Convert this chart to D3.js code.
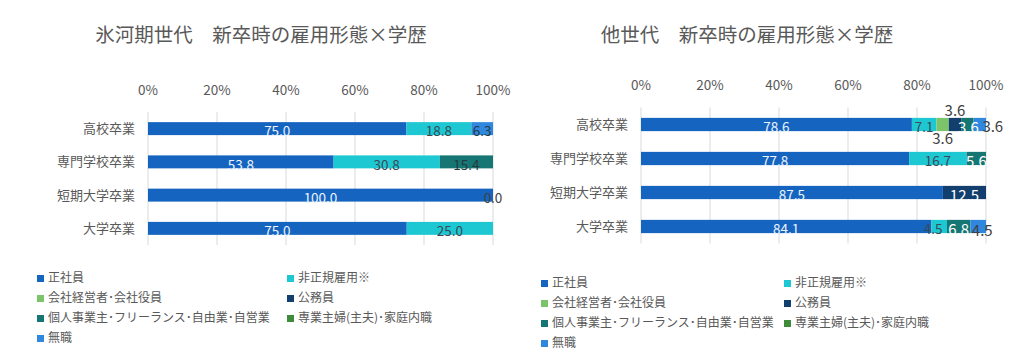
<!DOCTYPE html>
<html>
<head>
<meta charset="utf-8">
<script src="https://cdn.jsdelivr.net/npm/d3@7"></script>
<style>
  body { margin: 0; background: #fff; }
  svg text { font-family: "Noto Sans CJK JP", "Noto Sans", sans-serif; }
</style>
</head>
<body>
<div id="chart"></div>
<script>
const SERIES = [
  "正社員",
  "非正規雇用※",
  "会社経営者･会社役員",
  "公務員",
  "個人事業主･フリーランス･自由業･自営業",
  "専業主婦(主夫)･家庭内職",
  "無職",
];
const COLORS = ["#1565c0", "#1ec8d2", "#7cc46a", "#123f6e", "#157673", "#3f8b3a", "#2f88de"];
const CATEGORIES = ["高校卒業", "専門学校卒業", "短期大学卒業", "大学卒業"];
const TICKS = [0, 0.2, 0.4, 0.6, 0.8, 1];

// rows = categories, columns = series (null = no segment)
const HYOGA_VALUES = [
  [75.0, 18.8, null, null, null, null, 6.3],
  [53.8, 30.8, null, null, 15.4, null, null],
  [100.0, null, null, null, null, null, 0.0],
  [75.0, 25.0, null, null, null, null, null],
];
const OTHER_VALUES = [
  [78.6, 7.1, 3.6, 3.6, 3.6, null, 3.6],
  [77.8, 16.7, null, null, 5.6, null, null],
  [87.5, null, null, 12.5, null, null, null],
  [84.1, 4.5, null, null, 6.8, null, 4.5],
];

const W = 1012, H = 351;
const svg = d3.select("#chart").append("svg").attr("width", W).attr("height", H);

function drawChart(cfg) {
  const g = svg.append("g");

  g.append("text")
    .attr("x", cfg.titleX).attr("y", 35).attr("dy", "0.35em")
    .attr("text-anchor", "middle").attr("fill", "#595959").attr("font-size", "19.5px")
    .text(cfg.title);

  const x = d3.scaleLinear().domain([0, 1]).range([cfg.x0, cfg.x1]);
  const y = d3.scaleBand().domain(CATEGORIES).range([cfg.top, cfg.bottom])
    .paddingInner(0.61).paddingOuter(0.305);

  // grid
  g.selectAll(".grid").data(TICKS).join("line")
    .attr("x1", (d) => x(d)).attr("x2", (d) => x(d))
    .attr("y1", cfg.top).attr("y2", cfg.bottom)
    .attr("stroke", "#d9d9d9").attr("stroke-width", 1);

  // tick labels (axis on top)
  g.selectAll(".tick").data(TICKS).join("text")
    .attr("x", (d) => x(d)).attr("y", cfg.tickY).attr("dy", "0.35em")
    .attr("text-anchor", "middle").attr("fill", "#595959").attr("font-size", "13.5px")
    .text(d3.format(".0%"));

  // category labels
  g.selectAll(".cat").data(CATEGORIES).join("text")
    .attr("x", cfg.x0 - 13).attr("y", (d) => y(d) + y.bandwidth() / 2).attr("dy", "0.35em")
    .attr("text-anchor", "end").attr("fill", "#595959").attr("font-size", "13px")
    .text((d) => d);

  // stacked 100% bars
  const rows = CATEGORIES.map((c, i) => {
    const r = { cat: c };
    SERIES.forEach((s, j) => { r[s] = cfg.values[i][j] == null ? 0 : cfg.values[i][j]; });
    return r;
  });
  const stack = d3.stack().keys(SERIES).offset(d3.stackOffsetExpand)(rows);

  const cells = [];
  stack.forEach((layer, j) => {
    layer.forEach((seg, i) => {
      const v = cfg.values[i][j];
      if (v == null) return;
      cells.push({ j, i, v, cat: CATEGORIES[i], x0: seg[0], x1: seg[1] });
    });
  });

  g.selectAll(".bar").data(cells.filter((d) => d.v > 0)).join("rect")
    .attr("x", (d) => x(d.x0))
    .attr("y", (d) => y(d.cat))
    .attr("width", (d) => x(d.x1) - x(d.x0))
    .attr("height", y.bandwidth())
    .attr("fill", (d) => COLORS[d.j]);

  g.selectAll(".lbl").data(cells).join("text")
    .attr("x", (d) => {
      const p = cfg.place[d.cat + "|" + d.j] || {};
      return x((d.x0 + d.x1) / 2) + (p.dx || 0);
    })
    .attr("y", (d) => {
      const p = cfg.place[d.cat + "|" + d.j] || {};
      return y(d.cat) + y.bandwidth() / 2 + 3 + (p.dy || 0);
    })
    .attr("dy", "0.35em")
    .attr("text-anchor", "middle")
    .attr("font-size", (d) => (cfg.bigLabels && cfg.bigLabels.includes(d.j) ? "15px" : "13.5px"))
    .attr("fill", (d) => {
      const p = cfg.place[d.cat + "|" + d.j];
      if (p && p.outside) return "#404040";
      return cfg.labelColors[d.j];
    })
    .text((d) => d3.format(".1f")(d.v));

  // legend
  SERIES.forEach((s, k) => {
    const lx = k % 2 === 0 ? cfg.legX : cfg.legX2;
    const ly = cfg.legY + Math.floor(k / 2) * 20;
    g.append("rect").attr("x", lx).attr("y", ly - 2).attr("width", 7).attr("height", 7)
      .attr("fill", COLORS[k]);
    g.append("text").attr("x", lx + 11).attr("y", ly + 1).attr("dy", "0.35em")
      .attr("fill", "#595959").attr("font-size", "12px").text(s);
  });
}

drawChart({
  title: "氷河期世代　新卒時の雇用形態×学歴",
  titleX: 261,
  values: HYOGA_VALUES,
  x0: 148, x1: 493, top: 112, bottom: 245, tickY: 90,
  legX: 37, legX2: 287, legY: 277,
  labelColors: ["#eef4fb", "#3a4a55", "#404040", "#ffffff", "#243a40", "#ffffff", "#243a40"],
  place: { "短期大学卒業|6": { outside: true, dx: 0 } },
});

drawChart({
  title: "他世代　新卒時の雇用形態×学歴",
  titleX: 747,
  values: OTHER_VALUES,
  x0: 641, x1: 986, top: 107.5, bottom: 243.5, tickY: 85,
  legX: 541, legX2: 784, legY: 282,
  labelColors: ["#eef4fb", "#3a4a55", "#404040", "#ffffff", "#ffffff", "#ffffff", "#404040"],
  bigLabels: [2, 3, 4, 6],
  place: {
    "高校卒業|2": { outside: true, dy: 11 },
    "高校卒業|3": { outside: true, dy: -17, dx: 0 },
    "高校卒業|4": { dx: 1 },
    "高校卒業|6": { outside: true, dx: 13, dy: -1 },
    "大学卒業|1": { dx: -6 },
    "大学卒業|6": { outside: true, dx: 4, dy: 1 },
  },
});
</script>
</body>
</html>
